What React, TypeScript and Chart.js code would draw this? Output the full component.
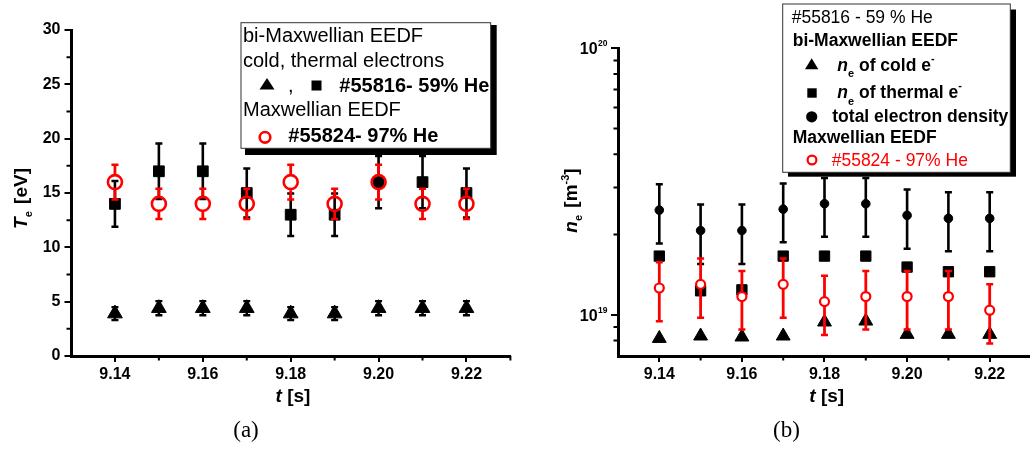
import React, { useEffect, useRef } from 'react';
import { Chart, registerables } from 'chart.js';

Chart.register(...registerables);

// ---------------- data ----------------
const times = [9.14, 9.15, 9.16, 9.17, 9.18, 9.19, 9.2, 9.21, 9.22];
const xMajorTicks = [9.14, 9.16, 9.18, 9.2, 9.22];
const xMinorTicks = [9.15, 9.17, 9.19, 9.21, 9.23];

// panel (a): electron temperature [eV]
const teCold = [3.9, 4.4, 4.4, 4.4, 3.9, 3.9, 4.4, 4.4, 4.4];
const teColdErr = [0.6, 0.65, 0.65, 0.65, 0.6, 0.6, 0.65, 0.65, 0.65];
const teThermal = [14, 17, 17, 15, 13, 13, 16, 16, 15];
const teThermalErr = [2.1, 2.55, 2.55, 2.25, 1.95, 1.95, 2.4, 2.4, 2.25];
const teMaxwell = [16, 14, 14, 14, 16, 14, 16, 14, 14];
const teMaxwellErr = [1.6, 1.4, 1.4, 1.4, 1.6, 1.4, 1.6, 1.4, 1.4];
const teMajorTicks = [0, 5, 10, 15, 20, 25, 30];
const teMinorTicks = [2.5, 7.5, 12.5, 17.5, 22.5, 27.5];

// panel (b): electron density [m^-3]
const neCold = [8.15e18, 8.32e18, 8.25e18, 8.32e18, 9.39e18, 9.47e18, 8.44e18, 8.44e18, 8.44e18];
const neThermal = [1.66e19, 1.23e19, 1.24e19, 1.66e19, 1.66e19, 1.66e19, 1.51e19, 1.45e19, 1.45e19];
const neTotal = [2.47e19, 2.07e19, 2.07e19, 2.49e19, 2.61e19, 2.61e19, 2.36e19, 2.3e19, 2.3e19];
const neTotalLow = [1.85e19, 1.55e19, 1.55e19, 1.87e19, 1.96e19, 1.96e19, 1.77e19, 1.73e19, 1.73e19];
const neTotalHigh = [3.09e19, 2.59e19, 2.59e19, 3.11e19, 3.26e19, 3.26e19, 2.95e19, 2.88e19, 2.88e19];
const neMaxwell = [1.26e19, 1.3e19, 1.17e19, 1.3e19, 1.12e19, 1.17e19, 1.17e19, 1.17e19, 1.04e19];
const neMaxwellLow = [9.45e18, 9.75e18, 8.8e18, 9.75e18, 8.4e18, 8.8e18, 8.8e18, 8.8e18, 7.8e18];
const neMaxwellHigh = [1.575e19, 1.625e19, 1.46e19, 1.625e19, 1.4e19, 1.46e19, 1.46e19, 1.46e19, 1.3e19];
const neMajorTicks = [1e19, 1e20];
const neMinorTicks = [8e18, 9e18, 2e19, 3e19, 4e19, 5e19, 6e19, 7e19, 8e19, 9e19];

// ---------------- helpers ----------------
const SANS = "'Liberation Sans', Arial, Helvetica, sans-serif";
const SERIF = "'Liberation Serif', 'Times New Roman', serif";
const tickFont = { family: SANS, size: 16, weight: 'bold' as const };

const pts = (ys: number[]) => times.map((t, i) => ({ x: t, y: ys[i] }));

const errorBarsPlugin = {
  id: 'errorBars',
  beforeDatasetDraw(chart: any, args: any) {
    const ds = chart.data.datasets[args.index];
    const eb = ds.errorBars;
    if (!eb) return;
    const ctx = chart.ctx;
    const yScale = chart.scales.y;
    ctx.save();
    ctx.strokeStyle = eb.color;
    ctx.lineCap = 'butt';
    args.meta.data.forEach((pt: any, i: number) => {
      const x = pt.x;
      const y = pt.y;
      const yHi = yScale.getPixelForValue(eb.high[i]);
      const yLo = yScale.getPixelForValue(eb.low[i]);
      const g = eb.gap;
      ctx.lineWidth = eb.width;
      ctx.beginPath();
      if (yHi < y - g) {
        ctx.moveTo(x, y - g);
        ctx.lineTo(x, yHi);
      }
      if (yLo > y + g) {
        ctx.moveTo(x, y + g);
        ctx.lineTo(x, yLo);
      }
      ctx.stroke();
      ctx.lineWidth = eb.capWidth;
      ctx.beginPath();
      ctx.moveTo(x - eb.cap, yHi);
      ctx.lineTo(x + eb.cap, yHi);
      ctx.moveTo(x - eb.cap, yLo);
      ctx.lineTo(x + eb.cap, yLo);
      ctx.stroke();
    });
    ctx.restore();
  },
};

function makeMinorTicks(xVals: number[], yVals: number[]) {
  return {
    id: 'minorTicks',
    afterDraw(chart: any) {
      const ctx = chart.ctx;
      const xs = chart.scales.x;
      const ys = chart.scales.y;
      const a = chart.chartArea;
      ctx.save();
      ctx.strokeStyle = '#000';
      ctx.lineWidth = 2;
      ctx.beginPath();
      xVals.forEach((v) => {
        const px = xs.getPixelForValue(v);
        ctx.moveTo(px, a.bottom);
        ctx.lineTo(px, a.bottom + 4.5);
      });
      yVals.forEach((v) => {
        const py = ys.getPixelForValue(v);
        ctx.moveTo(a.left, py);
        ctx.lineTo(a.left - 4.5, py);
      });
      ctx.stroke();
      ctx.restore();
    },
  };
}

function makePowerLabels(vals: number[]) {
  return {
    id: 'powerLabels',
    afterDraw(chart: any) {
      const ctx = chart.ctx;
      const ys = chart.scales.y;
      const a = chart.chartArea;
      ctx.save();
      ctx.fillStyle = '#000';
      ctx.textBaseline = 'alphabetic';
      ctx.textAlign = 'left';
      vals.forEach((v) => {
        const py = ys.getPixelForValue(v);
        const exp = String(Math.round(Math.log10(v)));
        ctx.font = `bold 8.5px ${SANS}`;
        const w2 = ctx.measureText(exp).width;
        ctx.font = `bold 16px ${SANS}`;
        const w1 = ctx.measureText('10').width;
        const right = a.left - 10.5;
        ctx.fillText('10', right - w2 - w1 - 0.5, py + 6);
        ctx.font = `bold 8.5px ${SANS}`;
        ctx.fillText(exp, right - w2, py - 2);
      });
      ctx.restore();
    },
  };
}

function xScale() {
  return {
    type: 'linear' as const,
    min: 9.13,
    max: 9.23,
    afterBuildTicks: (s: any) => {
      s.ticks = xMajorTicks.map((v) => ({ value: v }));
    },
    afterFit: (s: any) => {
      s.height = 30;
    },
    ticks: {
      font: tickFont,
      color: '#000',
      padding: 3,
      autoSkip: false,
      maxRotation: 0,
      callback: (v: any) => Number(v).toFixed(2),
    },
    grid: { display: true, drawOnChartArea: false, drawTicks: true, tickLength: 6, color: '#000', lineWidth: 2 },
    border: { display: true, color: '#000', width: 3 },
  };
}

function leftConfig(): any {
  return {
    type: 'scatter',
    data: {
      datasets: [
        {
          label: 'Te cold (bi-Maxwellian)',
          data: pts(teCold),
          pointStyle: 'triangle',
          pointRadius: 8.5,
          backgroundColor: '#000',
          borderColor: '#000',
          borderWidth: 1,
          errorBars: {
            low: teCold.map((v, i) => v - teColdErr[i]),
            high: teCold.map((v, i) => v + teColdErr[i]),
            color: '#000', width: 2.5, capWidth: 2.3, cap: 3.5, gap: 0,
          },
        },
        {
          label: 'Te Maxwellian #55824',
          data: pts(teMaxwell),
          pointStyle: 'circle',
          pointRadius: 7,
          backgroundColor: 'rgba(0,0,0,0)',
          borderColor: '#f00',
          borderWidth: 2.6,
          errorBars: {
            low: teMaxwell.map((v, i) => v - teMaxwellErr[i]),
            high: teMaxwell.map((v, i) => v + teMaxwellErr[i]),
            color: '#f00', width: 2.8, capWidth: 2.5, cap: 3.5, gap: 8,
          },
        },
        {
          label: 'Te thermal (bi-Maxwellian)',
          data: pts(teThermal),
          pointStyle: 'rect',
          pointRadius: 7.6,
          backgroundColor: '#000',
          borderColor: '#000',
          borderWidth: 1,
          errorBars: {
            low: teThermal.map((v, i) => v - teThermalErr[i]),
            high: teThermal.map((v, i) => v + teThermalErr[i]),
            color: '#000', width: 2.6, capWidth: 2.5, cap: 3.5, gap: 0,
          },
        },
      ],
    },
    options: {
      animation: false,
      responsive: false,
      events: [],
      layout: { padding: { top: 30, right: 6.5, bottom: 64, left: 0 } },
      plugins: { legend: { display: false }, tooltip: { enabled: false } },
      scales: {
        x: xScale(),
        y: {
          type: 'linear',
          min: 0,
          max: 30,
          afterBuildTicks: (s: any) => {
            s.ticks = teMajorTicks.map((v) => ({ value: v }));
          },
          afterFit: (s: any) => {
            s.width = 71;
          },
          ticks: { font: tickFont, color: '#000', padding: 4 },
          grid: { display: true, drawOnChartArea: false, drawTicks: true, tickLength: 6.5, color: '#000', lineWidth: 2 },
          border: { display: true, color: '#000', width: 3 },
        },
      },
    },
    plugins: [errorBarsPlugin, makeMinorTicks(xMinorTicks, teMinorTicks)],
  };
}

function rightConfig(): any {
  return {
    type: 'scatter',
    data: {
      datasets: [
        {
          label: 'ne Maxwellian #55824',
          data: pts(neMaxwell),
          pointStyle: 'circle',
          pointRadius: 4.5,
          backgroundColor: '#fff',
          borderColor: '#f00',
          borderWidth: 2.2,
          errorBars: { low: neMaxwellLow, high: neMaxwellHigh, color: '#f00', width: 2.8, capWidth: 2.5, cap: 3.5, gap: 0 },
        },
        {
          label: 'ne of cold e-',
          data: pts(neCold),
          pointStyle: 'triangle',
          pointRadius: 8,
          backgroundColor: '#000',
          borderColor: '#000',
          borderWidth: 1,
        },
        {
          label: 'ne of thermal e-',
          data: pts(neThermal),
          pointStyle: 'rect',
          pointRadius: 7.3,
          backgroundColor: '#000',
          borderColor: '#000',
          borderWidth: 1,
        },
        {
          label: 'total electron density',
          data: pts(neTotal),
          pointStyle: 'circle',
          pointRadius: 4.3,
          backgroundColor: '#000',
          borderColor: '#000',
          borderWidth: 1,
          errorBars: { low: neTotalLow, high: neTotalHigh, color: '#000', width: 2.6, capWidth: 2.5, cap: 3.5, gap: 0 },
        },
      ],
    },
    options: {
      animation: false,
      responsive: false,
      events: [],
      layout: { padding: { top: 48.3, right: 4.25, bottom: 64, left: 0 } },
      plugins: { legend: { display: false }, tooltip: { enabled: false } },
      scales: {
        x: xScale(),
        y: {
          type: 'logarithmic',
          min: 7e18,
          max: 1e20,
          afterBuildTicks: (s: any) => {
            s.ticks = neMajorTicks.map((v) => ({ value: v, major: true }));
          },
          afterFit: (s: any) => {
            s.width = 98;
          },
          ticks: { display: false },
          grid: { display: true, drawOnChartArea: false, drawTicks: true, tickLength: 7, color: '#000', lineWidth: 2 },
          border: { display: true, color: '#000', width: 3 },
        },
      },
    },
    plugins: [errorBarsPlugin, makeMinorTicks(xMinorTicks, neMinorTicks), makePowerLabels(neMajorTicks)],
  };
}

export default function App() {
  const leftRef = useRef<HTMLCanvasElement>(null);
  const rightRef = useRef<HTMLCanvasElement>(null);

  useEffect(() => {
    const c1 = new Chart(leftRef.current as HTMLCanvasElement, leftConfig());
    const c2 = new Chart(rightRef.current as HTMLCanvasElement, rightConfig());
    return () => {
      c1.destroy();
      c2.destroy();
    };
  }, []);

  return (
    <div style={{ position: 'absolute', left: 0, top: 0, width: 1030, height: 450, overflow: 'hidden', background: '#fff' }}>
      <canvas ref={leftRef} width={520} height={450} style={{ position: 'absolute', left: 0, top: 0 }} />
      <canvas ref={rightRef} width={520} height={450} style={{ position: 'absolute', left: 520, top: 0 }} />
      <svg width={1030} height={450} style={{ position: 'absolute', left: 0, top: 0, pointerEvents: 'none' }} fontFamily={SANS}>
        {/* ---- panel (a) titles ---- */}
        <text transform="translate(27,198.5) rotate(-90)" textAnchor="middle" fontSize={19} fontWeight="bold" fill="#000">
          <tspan fontStyle="italic">T</tspan>
          <tspan fontSize={11} dy={5}>e</tspan>
          <tspan dy={-5} dx={2}> [eV]</tspan>
        </text>
        <text x={293} y={402} textAnchor="middle" fontSize={19} fontWeight="bold" fill="#000">
          <tspan fontStyle="italic">t</tspan> [s]
        </text>
        <text x={246} y={437} textAnchor="middle" fontSize={23} fontFamily={SERIF} fill="#000">(a)</text>

        {/* ---- panel (a) legend ---- */}
        <rect x={245} y={25} width={251.7} height={130} fill="#000" />
        <rect x={241} y={22.7} width={249.7} height={125.6} fill="#fff" stroke="#333" strokeWidth={1} />
        <text x={243} y={41.7} fontSize={20} fill="#000">bi-Maxwellian EEDF</text>
        <text x={243} y={66.7} fontSize={20} fill="#000">cold, thermal electrons</text>
        <polygon points="259.5,89.5 274.5,89.5 267,78" fill="#000" />
        <text x={288} y={91.7} fontSize={20} fill="#000">,</text>
        <rect x={311.5} y={80.5} width={10} height={10} fill="#000" />
        <text x={339.3} y={91.7} fontSize={20} fontWeight="bold" fill="#000">#55816- 59% He</text>
        <text x={243} y={116.2} fontSize={20} fill="#000">Maxwellian EEDF</text>
        <circle cx={265} cy={137.3} r={5.3} fill="none" stroke="#f00" strokeWidth={2.6} />
        <text x={288.3} y={141.7} fontSize={20} fontWeight="bold" fill="#000">#55824- 97% He</text>

        {/* ---- panel (b) titles ---- */}
        <text transform="translate(577,200.5) rotate(-90)" textAnchor="middle" fontSize={19} fontWeight="bold" fill="#000">
          <tspan fontStyle="italic">n</tspan>
          <tspan fontSize={11} dy={5}>e</tspan>
          <tspan dy={-5} dx={2}> [m</tspan>
          <tspan fontSize={11} dy={-8}>-3</tspan>
          <tspan dy={8}>]</tspan>
        </text>
        <text x={826.7} y={402} textAnchor="middle" fontSize={19} fontWeight="bold" fill="#000">
          <tspan fontStyle="italic">t</tspan> [s]
        </text>
        <text x={786.5} y={437} textAnchor="middle" fontSize={23} fontFamily={SERIF} fill="#000">(b)</text>

        {/* ---- panel (b) legend ---- */}
        <rect x={788} y={9.5} width={228} height={167.2} fill="#000" />
        <rect x={782.7} y={4} width={227.6} height={168.3} fill="#fff" stroke="#333" strokeWidth={1} />
        <text x={791.7} y={23.3} fontSize={17.5} fill="#000">#55816 - 59 % He</text>
        <text x={792.7} y={45.7} fontSize={17.5} fontWeight="bold" fill="#000">bi-Maxwellian EEDF</text>
        <polygon points="805,69.3 818.3,69.3 811.7,58.3" fill="#000" />
        <text x={837.3} y={70.7} fontSize={17.5} fontWeight="bold" fill="#000">
          <tspan fontStyle="italic">n</tspan>
          <tspan fontSize={11} dy={6.5}>e</tspan>
          <tspan dy={-6.5}> of cold e</tspan>
          <tspan fontSize={11} dy={-9}>-</tspan>
        </text>
        <rect x={807.3} y={88.3} width={9.4} height={9.4} fill="#000" />
        <text x={837.3} y={98.3} fontSize={17.5} fontWeight="bold" fill="#000">
          <tspan fontStyle="italic">n</tspan>
          <tspan fontSize={11} dy={6.5}>e</tspan>
          <tspan dy={-6.5}> of thermal e</tspan>
          <tspan fontSize={11} dy={-9}>-</tspan>
        </text>
        <circle cx={811.7} cy={116.8} r={5.6} fill="#000" />
        <text x={832.3} y={121.7} fontSize={17.5} fontWeight="bold" fill="#000">total electron density</text>
        <text x={792.7} y={143.3} fontSize={17.5} fontWeight="bold" fill="#000">Maxwellian EEDF</text>
        <circle cx={812} cy={160} r={4.4} fill="none" stroke="#f00" strokeWidth={2.2} />
        <text x={831.7} y={165.7} fontSize={17.5} fill="#f00">#55824 - 97% He</text>
      </svg>
    </div>
  );
}
